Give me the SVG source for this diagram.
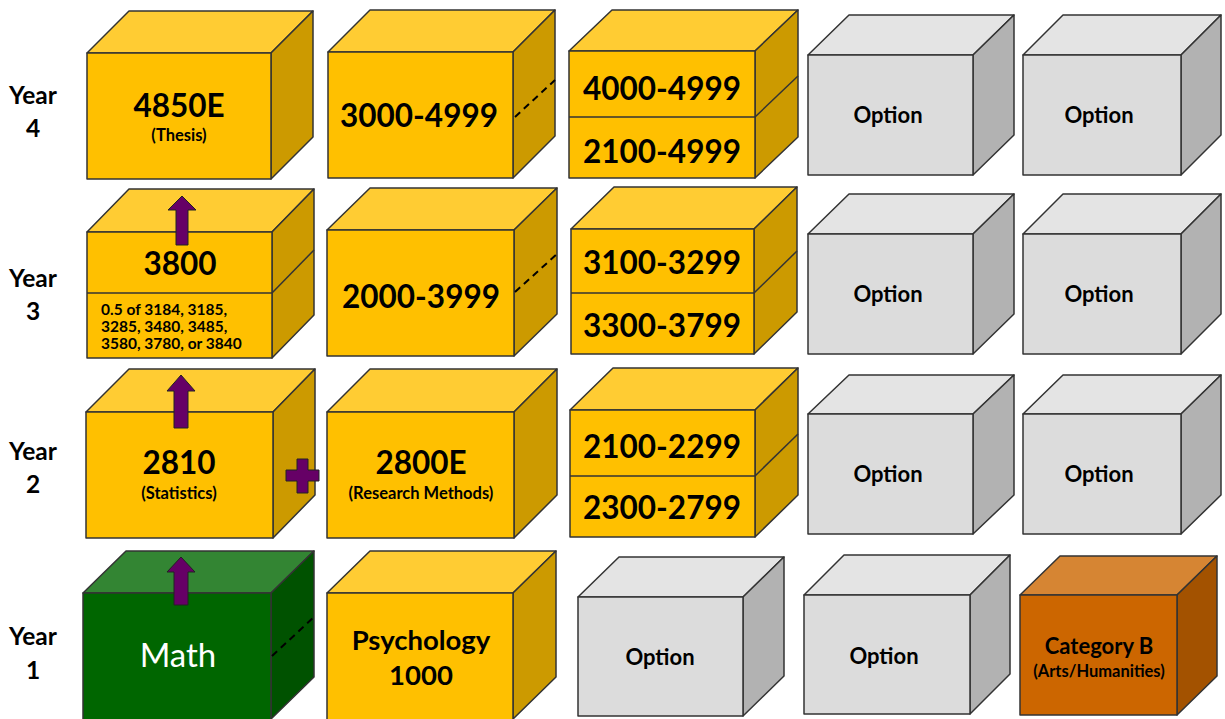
<svg xmlns="http://www.w3.org/2000/svg" width="1225" height="719" viewBox="0 0 1225 719">
<defs>
<style>
.o{stroke:#333;stroke-width:1.5;stroke-linejoin:round}
.yf{fill:#FFC000}.yt{fill:#FFCC33}.ys{fill:#CC9A00}
.gf{fill:#DCDCDC}.gt{fill:#E4E4E4}.gs{fill:#B2B2B2}
.nf{fill:#006600}.nt{fill:#338533}.ns{fill:#005200}
.rf{fill:#CC6600}.rt{fill:#D68533}.rs{fill:#A35200}
.div{stroke:#333;stroke-width:1.5;fill:none}
.dash{stroke:#000;stroke-width:2;stroke-dasharray:7 5;fill:none}
.big{font-family:Lato,"Liberation Sans",sans-serif;font-weight:bold;font-size:31.5px;fill:#000;text-anchor:middle}
.med{font-family:Lato,"Liberation Sans",sans-serif;font-weight:bold;font-size:22px;fill:#000;text-anchor:middle}
.sm{font-family:Lato,"Liberation Sans",sans-serif;font-weight:bold;font-size:16.5px;fill:#000;text-anchor:middle}
.lst{font-family:Lato,"Liberation Sans",sans-serif;font-weight:bold;font-size:15.5px;fill:#000;text-anchor:start}
.yr{font-family:Lato,"Liberation Sans",sans-serif;font-weight:bold;font-size:24.5px;fill:#000;text-anchor:middle}
.arr{fill:#660066;stroke:#222;stroke-width:1}
</style>
</defs>

<g id="year-labels">
<text class="yr" x="33" y="104">Year</text><text class="yr" x="33" y="137">4</text>
<text class="yr" x="33" y="287">Year</text><text class="yr" x="33" y="320">3</text>
<text class="yr" x="33" y="460">Year</text><text class="yr" x="33" y="493">2</text>
<text class="yr" x="33" y="645">Year</text><text class="yr" x="33" y="679">1</text>
</g>

<!-- Year 4 -->
<g id="y4-4850E">
<polygon class="o yt" points="87,53 129,11 313,11 271,53"/>
<polygon class="o ys" points="271,53 313,11 313,137 271,179"/>
<rect class="o yf" x="87" y="53" width="184" height="126"/>
<text class="big" x="179" y="117">4850E</text>
<text class="sm" x="179" y="141">(Thesis)</text>
</g>
<g id="y4-3000-4999">
<polygon class="o yt" points="328,52 370,10 555,10 513,52"/>
<polygon class="o ys" points="513,52 555,10 555,136 513,178"/>
<rect class="o yf" x="328" y="52" width="185" height="126"/>
<text class="big" x="419" y="127">3000-4999</text>
</g>
<g id="y4-range-split">
<polygon class="o yt" points="569,51 612,10 798,10 755,51"/>
<polygon class="o ys" points="755,51 798,10 798,137 755,178"/>
<rect class="o yf" x="569" y="51" width="186" height="127"/>
<line class="div" x1="569" y1="117" x2="755" y2="117"/>
<line class="div" x1="755" y1="117" x2="798" y2="76"/>
<text class="big" x="662" y="100">4000-4999</text>
<text class="big" x="662" y="163">2100-4999</text>
</g>
<g id="y4-option1">
<polygon class="o gt" points="808,55 849,15 1014,15 973,55"/>
<polygon class="o gs" points="973,55 1014,15 1014,135 973,175"/>
<rect class="o gf" x="808" y="55" width="165" height="120"/>
<text class="med" x="888" y="123">Option</text>
</g>
<g id="y4-option2">
<polygon class="o gt" points="1023,55 1063,15 1221,15 1181,55"/>
<polygon class="o gs" points="1181,55 1221,15 1221,135 1181,175"/>
<rect class="o gf" x="1023" y="55" width="158" height="120"/>
<text class="med" x="1099" y="123">Option</text>
</g>

<!-- Year 3 -->
<g id="y3-3800">
<polygon class="o yt" points="87,232 129,189 314,189 272,232"/>
<polygon class="o ys" points="272,232 314,189 314,315 272,358"/>
<rect class="o yf" x="87" y="232" width="185" height="126"/>
<line class="div" x1="87" y1="293" x2="272" y2="293"/>
<line class="div" x1="272" y1="293" x2="314" y2="250"/>
<text class="big" x="180" y="275">3800</text>
<text class="lst" x="101" y="315">0.5 of 3184, 3185,</text>
<text class="lst" x="101" y="332">3285, 3480, 3485,</text>
<text class="lst" x="101" y="349">3580, 3780, or 3840</text>
</g>
<g id="y3-2000-3999">
<polygon class="o yt" points="327,230 370,188 557,188 514,230"/>
<polygon class="o ys" points="514,230 557,188 557,314 514,356"/>
<rect class="o yf" x="327" y="230" width="187" height="126"/>
<text class="big" x="421" y="308">2000-3999</text>
</g>
<g id="y3-range-split">
<polygon class="o yt" points="571,229 614,187 797,187 754,229"/>
<polygon class="o ys" points="754,229 797,187 797,312 754,354"/>
<rect class="o yf" x="571" y="229" width="183" height="125"/>
<line class="div" x1="571" y1="293" x2="754" y2="293"/>
<line class="div" x1="754" y1="293" x2="797" y2="251"/>
<text class="big" x="662" y="274">3100-3299</text>
<text class="big" x="662" y="337">3300-3799</text>
</g>
<g id="y3-option1">
<polygon class="o gt" points="808,234 849,194 1014,194 973,234"/>
<polygon class="o gs" points="973,234 1014,194 1014,314 973,354"/>
<rect class="o gf" x="808" y="234" width="165" height="120"/>
<text class="med" x="888" y="302">Option</text>
</g>
<g id="y3-option2">
<polygon class="o gt" points="1023,234 1063,194 1221,194 1181,234"/>
<polygon class="o gs" points="1181,234 1221,194 1221,314 1181,354"/>
<rect class="o gf" x="1023" y="234" width="158" height="120"/>
<text class="med" x="1099" y="302">Option</text>
</g>

<!-- Year 2 -->
<g id="y2-2810">
<polygon class="o yt" points="86,412 129,369 315,369 273,412"/>
<polygon class="o ys" points="273,412 315,369 315,495 273,538"/>
<rect class="o yf" x="86" y="412" width="187" height="126"/>
<text class="big" x="179" y="474">2810</text>
<text class="sm" x="179" y="499">(Statistics)</text>
</g>
<g id="y2-2800E">
<polygon class="o yt" points="327,412 370,369 557,369 514,412"/>
<polygon class="o ys" points="514,412 557,369 557,495 514,538"/>
<rect class="o yf" x="327" y="412" width="187" height="126"/>
<text class="big" x="421" y="474">2800E</text>
<text class="sm" x="421" y="499">(Research Methods)</text>
</g>
<g id="y2-range-split">
<polygon class="o yt" points="570,410 613,368 798,368 755,410"/>
<polygon class="o ys" points="755,410 798,368 798,495 755,537"/>
<rect class="o yf" x="570" y="410" width="185" height="127"/>
<line class="div" x1="570" y1="476" x2="755" y2="476"/>
<line class="div" x1="755" y1="476" x2="798" y2="434"/>
<text class="big" x="662" y="458">2100-2299</text>
<text class="big" x="662" y="519">2300-2799</text>
</g>
<g id="y2-option1">
<polygon class="o gt" points="808,414 849,375 1014,375 973,414"/>
<polygon class="o gs" points="973,414 1014,375 1014,495 973,534"/>
<rect class="o gf" x="808" y="414" width="165" height="120"/>
<text class="med" x="888" y="482">Option</text>
</g>
<g id="y2-option2">
<polygon class="o gt" points="1023,414 1063,375 1221,375 1181,414"/>
<polygon class="o gs" points="1181,414 1221,375 1221,495 1181,534"/>
<rect class="o gf" x="1023" y="414" width="158" height="120"/>
<text class="med" x="1099" y="482">Option</text>
</g>

<!-- Year 1 -->
<g id="y1-math">
<polygon class="o nt" points="83,593 126,551 314,551 271,593"/>
<polygon class="o ns" points="271,593 314,551 314,677 271,719"/>
<rect class="o nf" x="83" y="593" width="188" height="130"/>
<text x="178" y="667" style="font-family:Lato,'Liberation Sans',sans-serif;font-size:33px;fill:#fff;text-anchor:middle">Math</text>
</g>
<g id="y1-psych1000">
<polygon class="o yt" points="327,593 370,551 556,551 513,593"/>
<polygon class="o ys" points="513,593 556,551 556,677 513,719"/>
<rect class="o yf" x="327" y="593" width="186" height="130"/>
<text class="big" x="421" y="650" style="font-size:27.5px">Psychology</text>
<text class="big" x="421" y="685" style="font-size:27.5px">1000</text>
</g>
<g id="y1-option1">
<polygon class="o gt" points="578,597 619,557 784,557 743,597"/>
<polygon class="o gs" points="743,597 784,557 784,676 743,716"/>
<rect class="o gf" x="578" y="597" width="165" height="119"/>
<text class="med" x="660" y="665">Option</text>
</g>
<g id="y1-option2">
<polygon class="o gt" points="804,595 844,555 1010,555 970,595"/>
<polygon class="o gs" points="970,595 1010,555 1010,674 970,714"/>
<rect class="o gf" x="804" y="595" width="166" height="119"/>
<text class="med" x="884" y="664">Option</text>
</g>
<g id="y1-categoryB">
<polygon class="o rt" points="1020,595 1060,556 1217,556 1177,595"/>
<polygon class="o rs" points="1177,595 1217,556 1217,676 1177,715"/>
<rect class="o rf" x="1020" y="595" width="157" height="120"/>
<text class="med" x="1099" y="654">Category B</text>
<text class="sm" x="1099" y="677">(Arts/Humanities)</text>
</g>

<g id="connectors">
<line class="dash" x1="515" y1="117" x2="555" y2="80"/>
<line class="dash" x1="515" y1="292" x2="557" y2="254"/>
<line class="dash" x1="272" y1="656" x2="314" y2="617"/>
<polygon class="arr" points="182,196 196,210 188,210 188,245 176,245 176,210 168,210"/>
<polygon class="arr" points="181,375 195,391 188,391 188,428 174,428 174,391 167,391"/>
<polygon class="arr" points="181,557 195,572 188,572 188,605 174,605 174,572 167,572"/>
<polygon class="arr" points="297,459 308,459 308,470 319,470 319,481 308,481 308,493 297,493 297,481 286,481 286,470 297,470"/>
</g>
</svg>
